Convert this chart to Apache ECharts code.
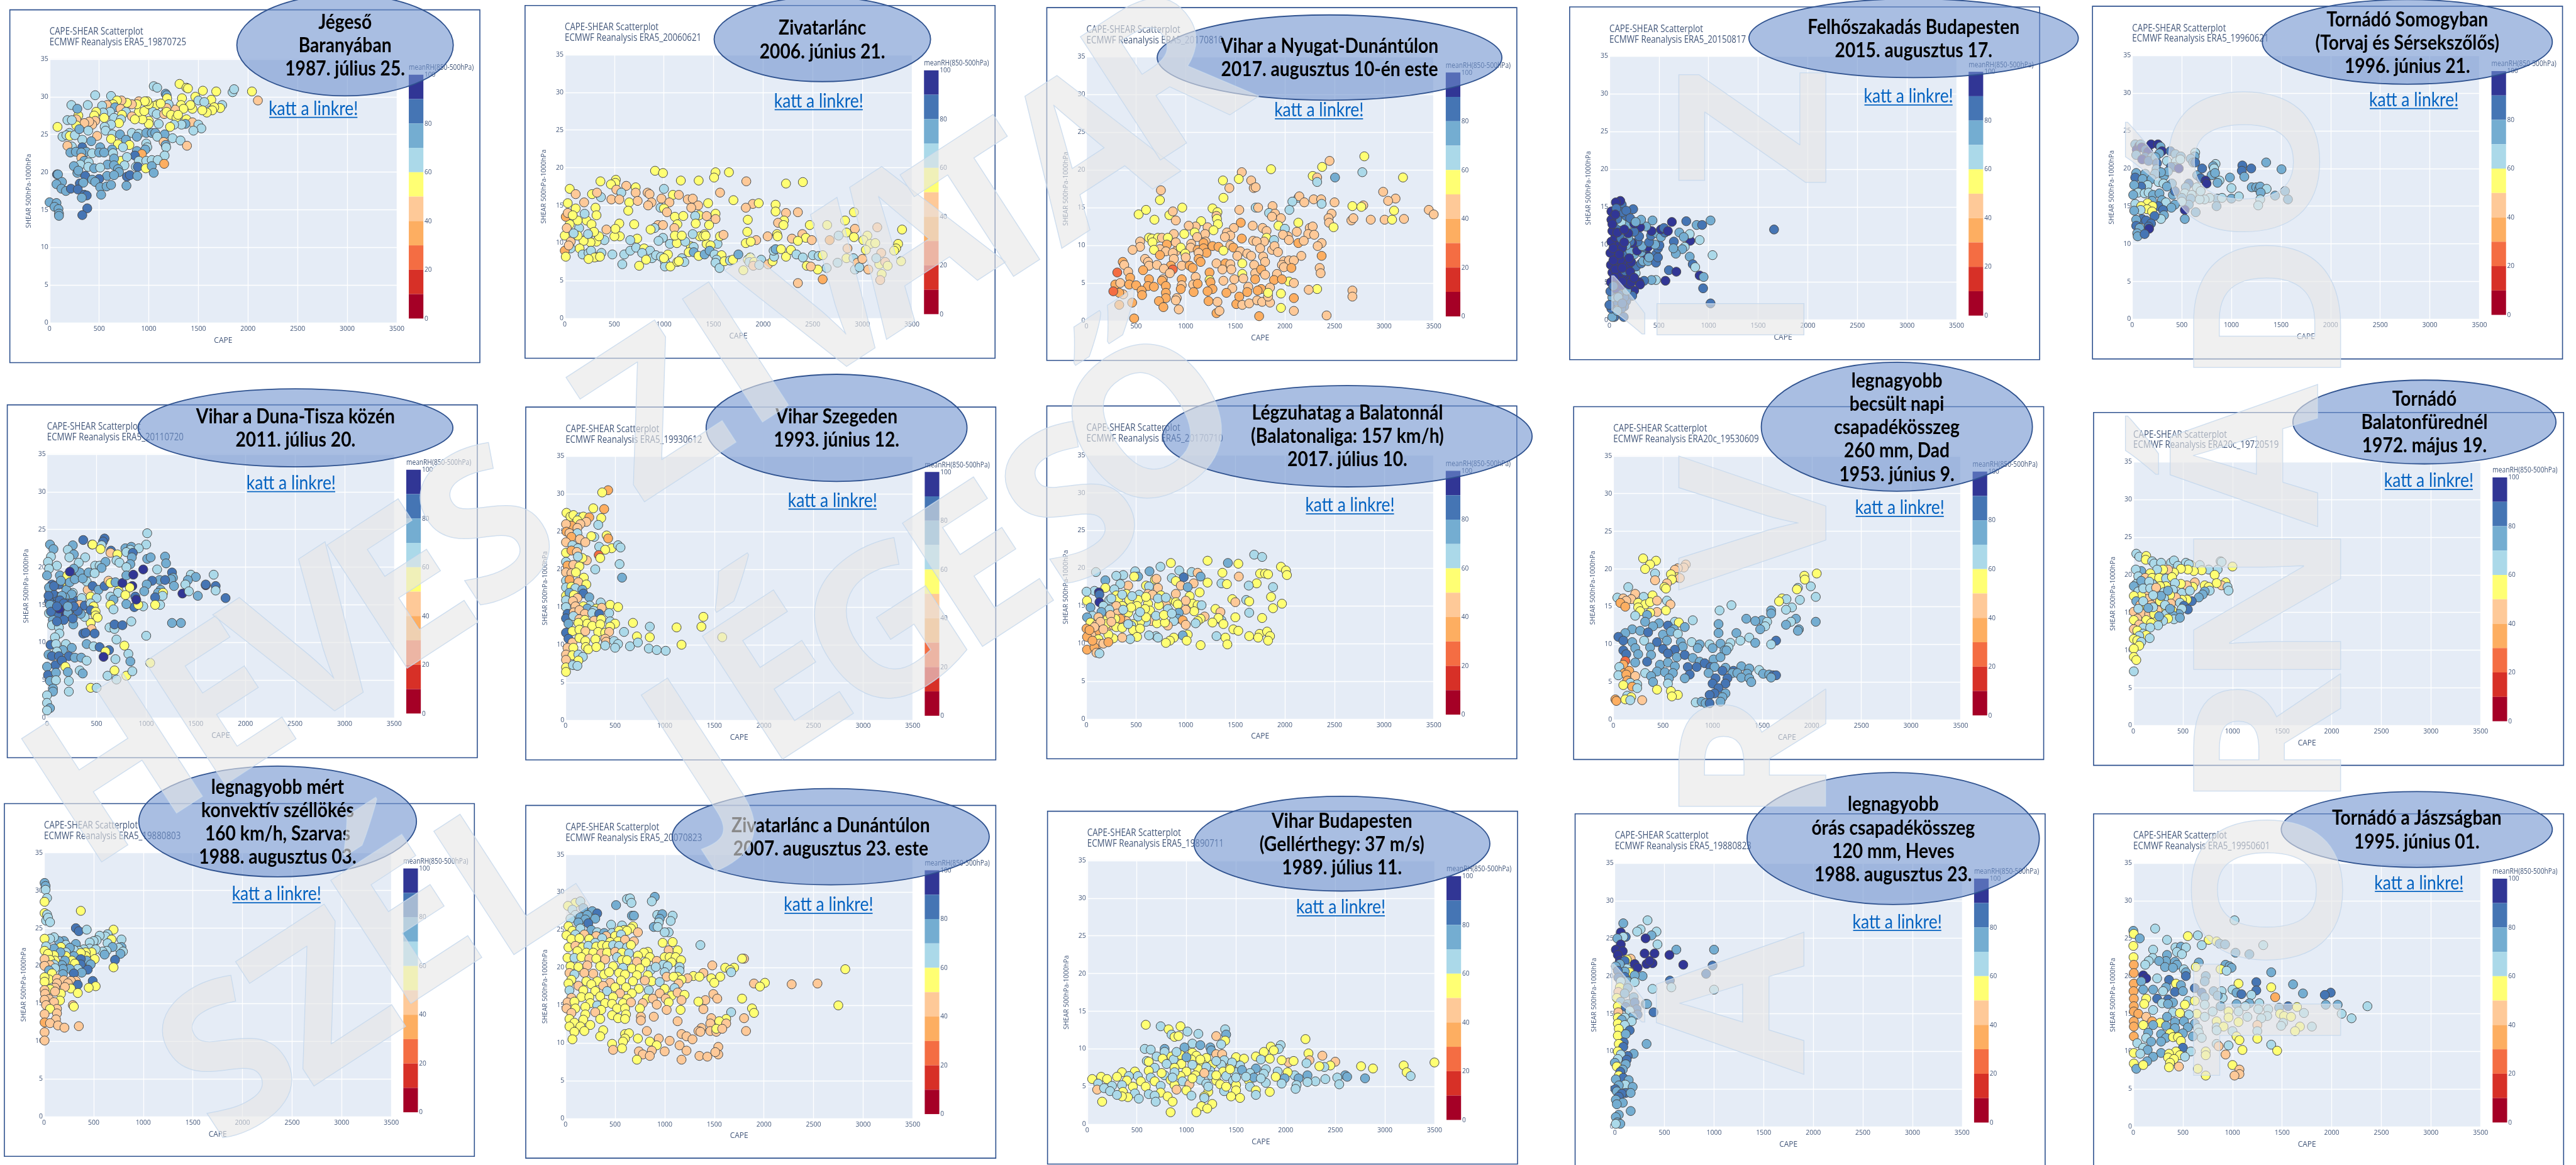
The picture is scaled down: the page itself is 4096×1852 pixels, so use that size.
<!DOCTYPE html>
<html>
<head>
<meta charset="utf-8">
<title>CAPE-SHEAR</title>
<script src="https://cdn.jsdelivr.net/npm/echarts@6/dist/echarts.min.js"></script>
<style>html,body{margin:0;padding:0;background:#fff;overflow:hidden}#main{width:4096px;height:1852px}</style>
</head>
<body>
<div id="main"></div>
<script>
/* adatok: CAPE, SHEAR, meanRH harmasok panelenkent, a kepekrol leolvasva */
var xTicks = [0, 3500, 500];
var yTicks = [0, 35, 5];
var rhColors = ['#a50026','#d73027','#f46d43','#fdae61','#fec998','#ffff73','#abd9e9','#74add1','#4575b4','#313695'];
var rhLabels = [0, 20, 40, 60, 80, 100];
var runs = ['ERA5_19870725','ERA5_20060621','ERA5_20170810','ERA5_20150817','ERA5_19960621','ERA5_20110720','ERA5_19930612','ERA5_20170710','ERA20c_19530609','ERA20c_19720519','ERA5_19880803','ERA5_20070823','ERA5_19890711','ERA5_19880823','ERA5_19950601'];
var events = [
 ['Jégeső','Baranyában','1987. július 25.'],['Zivatarlánc','2006. június 21.'],['Vihar a Nyugat-Dunántúlon','2017. augusztus 10-én este'],
 ['Felhőszakadás Budapesten','2015. augusztus 17.'],['Tornádó Somogyban','(Torvaj és Sérsekszőlős)','1996. június 21.'],['Vihar a Duna-Tisza közén','2011. július 20.'],
 ['Vihar Szegeden','1993. június 12.'],['Légzuhatag a Balatonnál','(Balatonaliga: 157 km/h)','2017. július 10.'],['legnagyobb','becsült napi','csapadékösszeg','260 mm, Dad','1953. június 9.'],
 ['Tornádó','Balatonfürednél','1972. május 19.'],['legnagyobb mért','konvektív széllökés','160 km/h, Szarvas','1988. augusztus 03.'],['Zivatarlánc a Dunántúlon','2007. augusztus 23. este'],
 ['Vihar Budapesten','(Gellérthegy: 37 m/s)','1989. július 11.'],['legnagyobb','órás csapadékösszeg','120 mm, Heves','1988. augusztus 23.'],['Tornádó a Jászságban','1995. június 01.']
];

var p01 = [1050,31.4,65,1085,31.2,65,1310,31.7,55,1380,31.2,55,1395,31.1,55,1545,30.8,55,1680,30.7,55,1845,30.6,65,1860,31,65,2040,30.7,55,2100,29.5,45,1170,30.4,75,1180,30.2,75,1185,29.8,55,460,30.2,65,620,30.1,65,1470,30,55,1335,29.8,55,1630,29.6,55,1500,29.5,65,1560,29.3,65,1740,28.9,65,1720,28.5,55,1660,28.6,55,1620,28.2,65,1640,28.2,55,1585,27.9,55,1540,28.2,55,1440,28.4,55,1420,28.9,55,1325,28.9,55,1350,28.4,55,1265,28.3,45,1200,29,65,1180,28.5,45,1090,29,55,1065,28.8,55,1120,29.1,55,1040,28,65,1080,27.7,65,1155,27.7,45,1180,28,55,1225,27.6,55,1280,27.2,55,1295,27.6,55,1380,27,55,1440,26.6,45,1500,26.3,65,1530,25.8,65,1450,25.5,65,1370,26.4,75,1330,26.3,65,1255,26.3,65,1215,26,55,1100,26.4,65,1000,26.8,55,1000,26.4,55,935,27,55,900,28,55,955,28.1,55,1000,29,55,985,29.4,55,900,29.4,45,960,29.4,55,880,29,55,830,29,45,780,29.2,55,725,29.5,45,680,29.5,55,640,29,55,580,28.9,45,530,28.8,65,660,28.6,75,715,28.4,45,770,28,65,830,27.4,45,860,27,55,730,27.6,55,610,28,65,540,27.9,65,470,28,55,450,27.5,55,550,27.2,55,650,27.2,65,720,27,65,700,26.5,55,620,26.3,65,555,26,65,460,26.8,45,430,26.3,45,400,26.7,45,350,26.5,45,290,27.5,55,270,27,45,270,26.2,55,220,28.9,65,280,28.4,75,385,28.9,65,180,26.9,65,225,26.9,65,80,26,55,200,25.2,65,130,24.7,65,170,24.9,65,205,24.8,55,255,24.9,65,390,25.5,65,300,25.7,75,480,24.8,45,565,25.5,65,635,25,65,710,25,75,830,25.2,65,900,25.1,65,975,25.2,75,1030,25.2,75,1065,25.2,75,1160,25,75,1085,24.7,65,1240,24.5,65,1320,24.2,65,1385,23.5,45,1150,24,45,1170,23.6,75,1175,23.3,65,975,23.8,65,985,23.3,65,965,23,75,880,24.7,75,770,24.3,75,620,24.4,55,690,23.7,55,805,23.6,55,740,23.3,65,630,23,75,510,23.3,75,420,24.1,75,330,24.3,65,330,23.3,85,225,23.4,65,180,23.5,45,210,22.6,75,265,22.7,75,370,22.7,75,320,22.6,75,430,22.5,65,500,22.6,75,550,22.6,75,640,22.5,65,880,22.8,75,930,22.4,35,1160,22.2,65,720,21.5,55,860,22.2,85,780,22,65,650,21.8,75,320,21.9,45,350,21.5,75,395,21.3,65,310,21,65,585,21,75,650,20.9,75,755,20.9,65,900,21.5,65,975,21.5,65,1030,21.6,65,1090,21.6,65,1155,21.1,35,245,20.8,75,390,20.7,65,450,20.5,75,510,20.6,65,690,20.4,75,870,20.7,65,890,20.7,85,970,20.5,55,1030,20.8,75,1050,19.9,75,700,20,75,280,19.9,75,290,20.2,75,75,19.7,85,85,19.7,75,360,19.5,85,580,19.5,75,650,19.6,75,780,19.4,85,810,19.6,85,885,19.5,75,500,19.1,85,430,19,75,460,18.7,75,125,18.7,75,70,18.4,75,305,18.5,85,340,18.6,75,510,18,75,575,18.1,75,620,18.3,75,775,18.2,75,120,17.8,75,165,17.5,75,215,17.8,85,285,17.7,85,350,17,85,375,16.9,85,325,16.6,75,520,17,75,0,16,75,70,15.9,75,50,15.4,75,90,15.1,75,95,14.5,75,95,14.2,75,380,15.2,85,330,14.3,85];

var p02 = [910,19.6,55,990,19.3,55,515,18.4,55,510,18,55,360,18.2,55,465,17.8,55,1170,18.3,55,1350,18.3,55,1520,19.4,55,1505,18.7,55,1655,19.4,55,1830,18.2,45,2230,17.9,55,2400,18.1,55,620,17.6,45,715,17.4,55,50,17.2,55,110,16.5,45,520,17.1,45,715,16.7,45,835,16.7,45,855,16.5,45,1000,17.2,65,570,16.7,65,365,16.1,65,275,16.5,55,325,16.7,45,1090,16.4,55,1150,16.4,45,1240,15.8,45,1290,15.9,45,1565,16.7,45,1700,15.7,55,470,15.8,45,550,15.8,45,195,15.4,45,650,15.4,55,735,15.6,45,875,15.4,45,975,15.9,45,1055,15.4,45,1445,15.3,55,1345,15,45,1895,15.2,45,1955,15.3,55,2125,15.1,55,1825,14.7,45,2125,14.2,55,2230,14,45,2350,14.1,45,2915,14.1,55,30,15.3,55,110,14.6,55,310,14.7,55,640,14.3,55,965,14.7,65,1000,14.6,55,1030,14.1,45,840,15,45,1275,14.7,45,1520,13.9,55,1845,13.1,55,1520,13.2,45,1355,13.7,55,1315,13.6,65,1430,13.6,45,1110,13.5,55,1195,13.6,55,2210,13,55,2150,12.7,45,2205,12.4,55,2825,13,55,2470,12.4,55,2645,12.4,55,3150,12.1,45,1455,12.4,55,1320,12.6,55,1135,12.5,55,940,12.4,45,990,12.4,45,1105,12,45,905,12,65,865,11.8,55,550,12.6,55,700,12.5,55,3400,11.8,55,2925,11.9,45,2840,11.4,55,2760,11,65,1840,11.5,55,2045,10.9,45,2140,11.2,55,2145,10.9,55,2395,11.2,45,2430,10.7,55,2290,10.6,45,2350,10.3,55,2490,10.4,45,2670,10.4,35,2915,10.8,55,3050,11,55,3010,10.4,55,3080,9.9,55,3130,10,55,3360,9.9,55,3340,9.3,55,3320,9,55,2850,9.3,45,3035,9.1,55,3190,8.7,45,1930,10.4,45,1825,10,55,1875,10.2,55,1540,9.9,65,1430,9.9,55,1470,9.7,55,1360,10.9,55,1410,11.2,55,1290,11.2,65,1395,10.9,55,1420,11,55,1565,10.9,55,1600,11.1,45,1270,9.6,55,1300,9.5,65,1060,9.9,65,1130,10,55,1215,10.2,65,1110,11,55,1180,11,55,990,10.7,65,945,10.3,65,730,10.6,55,660,10.4,65,555,10.9,55,500,10.9,55,400,10.4,65,320,10.2,55,230,10.7,65,260,10.1,55,190,10.3,55,150,9.3,55,60,9.3,65,180,8.5,65,240,8.7,65,330,8.2,55,265,9,65,300,8.1,55,370,8.7,65,600,8.5,65,660,9,65,720,9.4,65,800,9.3,55,860,9,65,880,8,65,780,8.7,65,920,8.4,65,970,8.2,65,1040,8.5,55,1010,7.5,65,1010,6.9,65,1065,6.9,55,1180,8,65,1205,7.5,65,1135,7.5,55,1250,8.8,55,1300,8.8,75,1350,8.3,55,1410,8.5,75,1460,9,75,1510,8.5,65,1580,8.4,55,1530,7.8,65,1520,7.4,65,1560,6.7,65,1610,7.6,55,1665,7.7,65,1695,7.8,55,1750,8.5,75,1845,7.8,55,1870,8.1,55,1860,7.5,65,1910,7.5,55,1900,7,45,1980,7.8,65,1960,7.1,65,2050,7.2,45,2095,7.6,55,2110,8.2,65,2105,9,65,2125,9.2,75,2180,9.2,55,2230,8.2,55,2280,9.1,55,2335,8.5,65,2400,8.1,65,2440,7,55,2500,8.4,65,2560,8.3,65,2600,8.4,55,2640,6.7,65,2550,6.5,55,2750,7.4,65,2840,8,55,2910,8,65,2925,6.5,65,2950,7.4,45,2970,6.8,65,3000,7.9,45,3060,6.5,45,3170,7.2,55,3140,8,65,3230,7.5,45,3255,7,55,3390,7.6,55,3195,5.9,55,3180,5.1,45,2600,5.2,35,2350,4.7,45,2480,6.9,45,1800,6.4,55,510,11.9,55,420,11.8,45,345,10.9,55,145,12,65,220,13,55,270,12.5,55,130,13,55,50,12.5,55,0,11,55,20,12,45,10,13.5,35,30,14,45,80,13.7,55,200,13.9,65,320,13.7,55,295,11.5,55,235,11.2,65,130,11,55,60,10.2,45,90,11.3,65,0,9,35,10,8.2,55,40,9.7,45,480,8.5,65,240,7.9,55,355,8.2,55,580,7.2,65,750,7,55,820,7.8,55,1000,8,55,1150,7.6,55];

var p03 = [2800,21.8,55,2450,21.2,45,2375,20.4,55,1860,20.1,55,1565,19.7,45,2280,19.2,55,2325,19,45,2325,18.4,65,2505,19,75,2780,19.7,65,3190,19,55,1375,18.6,55,1535,18.8,55,1660,18.6,45,1685,17.6,45,1705,17.7,45,1440,17.6,45,750,17.3,45,740,16,55,1380,16.3,55,2135,16.3,65,2145,16.5,45,2075,15.8,65,2195,15.7,45,2290,16.1,45,2365,16.1,45,2370,15.5,65,2500,15.7,45,2990,17.1,45,3115,16.2,45,3040,15.9,45,2790,15.3,45,2680,15.2,55,2770,15.1,55,3100,14.6,55,3450,14.7,45,3500,14.1,45,525,14.1,55,600,14.7,55,835,14,55,870,14.5,45,965,15,55,685,13.4,55,900,13.3,45,1270,14.9,55,1320,14.4,55,1310,13.9,45,1315,13.5,55,1325,12.8,55,1155,13.2,55,1540,14.7,45,1705,15,65,1730,15,45,1875,15.2,45,1840,14.3,65,1900,14.2,45,1870,13.8,45,1960,13.6,45,2045,14.7,65,2470,14.2,45,2440,13.6,45,2445,13,45,2490,12.4,55,2670,13.3,45,2690,13.6,45,2865,13.4,45,3005,13.4,45,3080,13.4,55,3200,13.5,45,1555,13,35,1485,12.3,45,1675,12.6,45,1775,12.3,45,1815,11.9,45,1935,12.6,55,2000,12.2,65,2135,13,55,2120,11.8,45,2250,12.3,45,2280,12.5,45,2235,11.5,45,2295,11.4,45,2030,11.2,45,1980,11.4,45,1815,11,55,1890,10.7,65,1790,10.5,45,1100,12.5,45,1030,12.6,45,1090,11.7,55,1220,12.4,45,1280,12,55,1195,11.5,45,1115,11.1,45,985,11.5,55,880,11.5,45,630,11,55,660,10.9,55,720,11,55,760,11,45,820,11,55,1415,11.7,45,1450,11.3,45,1395,11.1,45,1565,10.9,35,1680,10.6,45,1715,10.5,45,2040,10.7,45,2135,10.3,35,2190,10.6,45,2370,10.3,45,2330,9.9,45,1200,10.5,45,1180,10.3,35,1055,10.2,45,900,10.4,45,810,10.1,35,665,10.4,55,540,10.5,45,540,9.8,45,465,9.4,45,740,9.5,45,680,9.4,55,800,9.2,45,900,9.2,45,950,9.7,55,1050,9.7,45,1120,9.4,35,1180,9.6,35,1270,9.9,35,1330,9.8,35,1450,10,45,1480,9.7,35,1380,9.3,55,1210,9,35,1130,9,45,995,8.9,55,870,9,45,740,8.7,35,590,8.2,45,1550,9.2,45,1620,8.9,45,1750,9.6,45,1870,9.4,45,1895,9.9,45,1930,9.1,45,2165,8.6,45,2370,8.6,35,1520,8.6,45,1660,8.6,45,1780,8.5,45,1130,8.2,35,1000,8.4,45,880,8.2,45,620,7.8,45,365,7.8,35,380,7.4,45,630,7.3,45,710,7.4,45,850,7.3,35,960,7.3,45,1040,7.3,35,1150,7.8,35,1310,7.6,45,1400,7.6,35,1450,7.5,45,1570,7.6,55,1690,7.4,45,1800,7.8,45,1990,7.9,45,2040,8,45,2090,8,45,1970,7.4,45,1990,7.1,45,2065,7,35,2350,7,45,2360,6.3,45,310,6.4,25,420,6.5,45,570,6.7,35,780,6.9,45,870,6.8,25,1070,7,35,1240,6.4,35,1370,6.8,45,1460,6.8,45,1570,6.2,55,1700,6.3,45,1760,6.8,35,1800,6.1,45,1920,6.2,45,2040,5.2,55,2090,5,45,1240,5.4,55,1100,5.8,45,960,5.5,35,840,6.3,45,770,5.5,45,630,5.5,35,440,5.7,35,290,4.8,35,340,5,45,430,4.8,35,500,4.7,35,620,4.6,35,680,4.5,35,760,5.3,35,800,4.6,35,960,4.7,45,1075,4.8,45,1120,4.9,35,1250,5.1,35,1380,5.3,45,1490,5.5,45,1580,5.6,45,1700,5.5,35,1890,5.4,35,1970,5.5,35,1850,4.4,45,1760,4.2,35,1725,4,35,1630,4.5,45,1620,3.8,35,1470,4.3,45,1410,3.7,35,1270,4.2,35,1220,3.9,35,1080,3.8,35,950,4.2,35,800,3.7,35,555,4,35,560,3.4,35,370,3.5,45,330,3.7,35,270,3.9,25,800,3,35,910,3,45,900,2.7,45,1230,2.6,35,1320,2.5,45,1510,2.2,35,1540,3.2,35,1570,2.1,45,1640,2.3,45,1720,2.7,45,1770,2.5,45,1850,2.4,45,1830,3.2,45,1960,3.6,55,2090,3,35,2325,4.2,55,2240,4.1,45,2680,4,45,2680,3.2,45,1830,3.7,55,730,2.6,35,460,2.4,35,330,2.1,35,775,1.8,35,930,1.5,45,1310,1,35,1340,1.3,45,1740,.6,35,1960,1.7,55,2090,1.3,45,2420,.7,45,480,.3,35];

var p04 = [1020,13.2,75,775,13.1,85,630,13,95,880,12.6,75,935,12.6,85,435,13.2,75,240,14.7,85,125,15.3,85,110,15.8,95,65,15.6,95,1660,12,85,910,10.6,65,1040,8.6,65,815,10.5,95,810,11.4,65,705,11.6,75,750,11,75,650,10.4,85,760,9.7,65,735,9.4,75,670,8.8,75,645,9.5,75,810,8.4,75,840,7.4,85,865,7,65,600,6.6,85,675,6.4,95,910,5.9,95,950,5.7,75,945,4.2,85,1020,2.2,85,565,5.2,95,470,5.3,65,425,5.3,75,350,5.2,85,300,5,95,310,4.7,95,250,3.9,95,230,3.2,85,170,2.5,85,150,1.8,85,120,1.5,85,145,.4,85,50,.4,85,30,.4,75,20,1.5,85,60,2.5,85,150,3,85,95,3.4,85,175,3.9,75,30,3,75,0,2,85,10,3.8,85,60,4.2,95,120,4.6,95,200,4.7,95,15,5,95,90,5.4,95,180,5.6,95,210,5.3,95,220,5,95,100,6.1,95,30,6.3,95,160,6.5,85,240,6.7,75,265,6.2,65,270,7.1,85,190,7.3,95,75,7.1,95,15,7.3,95,130,7.7,95,220,7.7,95,320,7.5,85,340,7.8,75,390,7.8,75,470,7.6,85,380,8.6,95,470,8.7,85,490,8.3,85,400,8.3,75,320,9,75,250,8.7,75,160,8.6,85,70,8.6,95,10,8.9,95,100,9.3,85,210,9.2,75,280,9.2,95,360,9.6,85,390,9.7,95,330,9.8,75,490,9.5,85,505,9.9,85,460,10,75,400,10.3,85,285,10.4,85,230,10.2,95,210,10.4,85,170,9.9,75,90,10.1,95,20,10.4,95,60,11,95,120,10.8,85,190,10.9,75,300,11.1,85,420,11.2,85,480,11.5,75,520,11,75,560,11.6,85,520,12,95,550,12.2,85,590,11.8,95,425,11.8,95,370,12.4,75,310,12.3,95,250,11.7,85,190,11.5,95,30,11.8,95,100,12.3,85,180,12.6,75,120,13,65,250,12.8,95,320,13.3,75,170,13.8,85,80,13.4,85,20,13.3,95,130,14.3,85,20,14.4,95,70,14.8,85,170,14.5,85,210,13.5,85,265,13,75,40,9.5,95,130,9.6,95,200,8.2,95,110,8,95,40,7.9,95,60,6.7,95,130,6.9,95,210,6.4,95,50,5.6,95,130,5.1,95,250,5.6,95,40,4.5,85,90,3,75,130,2.2,85,80,1.2,75,100,8.7,95,150,10.3,95,80,11.6,95,150,12,95,30,12.7,95,60,14,95];

var p05 = [30,23.2,75,45,22.5,95,70,23,95,85,23.2,75,95,22.8,95,135,22.5,85,190,23.2,95,260,23.2,95,285,22.9,75,300,22.3,95,275,22,75,160,22.2,95,40,21.8,75,130,21.5,85,200,21.5,75,100,21.2,95,165,21,85,235,21.5,75,250,20.7,85,385,22.3,85,435,21.9,75,490,21.6,75,635,22.1,65,630,21.6,75,590,21.3,75,350,21,65,440,20.9,65,485,21.2,65,420,20.2,75,390,20.2,85,470,20,95,615,20.8,75,635,20.8,85,840,20.6,65,815,20.3,75,1110,20.4,85,1105,19.7,85,1200,20,85,1350,20.8,75,1505,19.9,75,1130,18.9,75,985,18.8,75,880,18.4,65,800,19.1,75,655,19.1,75,705,20,85,825,20,65,835,19.4,75,690,18.7,85,740,18.4,95,750,18,95,860,18.1,75,1000,17.4,65,1205,17.5,75,1250,17.5,75,1280,17.3,75,1290,17.6,75,1355,17.3,65,1295,16.8,75,1440,16.4,75,1540,17,75,1570,15.9,75,1290,15.9,65,1270,15.1,65,855,16,75,850,15,75,1000,16,75,905,16.1,65,1075,16.3,65,780,16.1,65,730,15.9,65,680,15.9,65,650,17.5,65,690,17,65,570,18,85,540,17.5,75,530,16.7,65,500,16.1,75,600,16.5,65,590,16,75,570,15.2,75,640,14.2,75,530,14.5,95,530,13.3,75,500,15.6,65,430,15.2,75,410,16.5,75,430,17,85,400,18,75,320,19,75,360,19.6,75,245,19.9,75,290,19.5,75,230,19.3,75,130,19.3,75,40,19.4,75,30,18.8,85,105,18.6,75,195,18.6,75,265,18.2,65,315,18,65,350,17.6,75,155,17.8,65,90,17.6,85,20,17.8,75,60,16.8,65,125,16.7,65,165,16.8,65,210,16.5,75,10,16.5,75,275,16.7,75,300,15.8,75,340,15.5,65,395,14.8,75,265,15,85,200,15.7,75,155,15.4,55,30,15.3,65,90,15,55,205,15,55,150,14.6,55,200,14.3,55,85,14.5,65,20,14.4,75,310,14.5,85,320,13.8,75,290,13.3,65,225,13.7,85,100,13.3,85,40,13.2,75,140,13.1,85,190,12.7,85,165,12.3,85,170,12,95,40,12.4,85,75,12.1,75,50,11.4,75,55,11,75,125,11.3,85];

var p06 = [1010,24.5,65,1000,23,65,580,23.8,85,365,23.6,85,455,23,85,565,23.4,85,30,23,75,65,22.4,75,260,22.9,75,210,22.3,65,460,23,55,550,22.9,65,540,22.4,55,645,22.2,85,640,21.9,45,790,22.5,75,850,22.7,75,925,22.5,65,840,22.3,65,800,22,65,865,21.9,85,270,21.7,75,225,21.3,65,385,21.3,65,710,21.7,55,700,20.9,65,855,21.3,75,730,20.6,65,1010,21.1,75,1045,21.3,75,1190,21.4,75,1200,20.5,75,40,21.4,65,10,20.7,65,100,20.2,65,320,20.6,65,485,20.2,65,530,20.2,65,590,20.7,75,550,19.9,75,840,20.4,75,800,20,65,970,19.7,95,1110,19.7,65,1260,19.3,85,1450,19,65,1500,18.7,75,1680,19,65,1270,18.6,75,1250,18.4,75,1135,18.3,75,1060,18.2,85,1005,17.7,75,1190,18.3,85,1420,18.3,75,1395,17.7,65,1600,17.6,95,1600,17.7,85,1700,17.5,85,1700,16.9,65,1280,17.5,75,1365,16.5,95,1430,16.8,65,1520,16.2,75,1800,15.9,85,1145,17,75,1120,16.6,75,1170,16.6,55,1165,16.2,65,1090,16,85,1140,15,65,1090,15,55,970,14.8,65,880,14.7,85,920,15,55,980,16.8,75,890,16.1,85,900,15.7,95,860,17.5,95,720,16.9,55,835,17.3,55,715,16.6,65,640,16.1,65,670,15.7,75,790,16.3,55,800,15.1,75,640,15,55,670,14.4,65,410,17,45,300,18.6,95,260,16.6,65,20,19.8,65,0,18.9,75,130,18.9,75,205,18.9,55,140,17.8,55,50,17.7,85,120,17.7,85,195,17,75,400,18.1,65,460,17.5,85,520,17,75,580,17.5,85,620,18.2,45,640,17.9,55,690,18,75,760,17.9,95,800,18.9,75,870,19,95,250,16.4,75,70,16.2,65,180,16,75,300,15.5,85,350,15.9,65,440,16.1,55,500,15.9,65,20,15.5,85,80,15,85,150,14.5,95,200,15.2,85,250,15.2,85,330,15,45,380,14.9,85,440,15.2,65,470,14.8,55,440,14.3,85,490,14.1,55,490,13.6,55,510,13.3,55,1350,12.6,75,1260,12.6,75,850,12.8,65,630,12,65,680,11.8,65,680,12.4,85,760,12.3,85,440,12.6,55,450,11.8,45,365,11.2,85,390,11.3,85,480,11.2,85,380,13.4,65,340,13.8,75,180,13.4,95,100,13.7,85,20,13.9,65,60,13,75,50,12.3,65,120,12,65,125,11.2,65,265,12.4,75,80,10.7,65,35,9.7,85,90,9.8,65,190,9.8,65,400,9.8,75,470,9.5,65,530,9.4,85,625,9,85,590,8.8,55,700,10.4,65,780,9.6,55,1000,10.9,65,250,9.3,75,160,9,75,100,8.8,65,15,8.4,75,50,8.2,85,120,8.2,85,220,8.2,85,280,8,75,345,8,75,400,7.6,65,570,8.1,95,690,7.8,65,820,8.5,65,840,7.5,75,1040,7.3,55,85,7,85,150,7.6,85,185,6.8,55,0,6.8,75,10,5.7,85,30,4.9,75,90,6,75,210,6.1,75,330,6.3,65,360,5.9,75,610,5.6,65,700,5.1,65,680,6.3,55,800,5.6,55,860,6.2,65,220,4.9,65,90,5,65,60,3.9,75,60,3.5,75,220,3.5,65,440,4,55,500,4,65,0,3,65,0,2,65,30,1.3,75,0,1,65,100,16.1,85,150,16.2,75,30,16.8,75,60,16.5,85,130,15.6,85,170,15.2,85,230,14.3,85,120,14.5,95,210,13.9,75,260,13.2,85,170,13,85,100,12.8,85,30,15,75,40,14.1,85,100,14.8,85,310,14.2,85,270,14.8,85,210,14.8,75,20,17.3,75,15,16.2,85,70,17.5,85,230,18,75,280,18.4,75,330,19.3,75,360,18.5,75,420,19.3,75,480,19.2,65,270,19.8,75,230,19.4,95,140,18.2,75];

var p07 = [430,30.5,35,370,30.2,55,280,28.1,55,390,28,35,10,27.5,55,50,27,55,80,27.2,55,145,26.9,65,180,27,55,120,26.5,55,360,26.8,55,240,26.9,35,210,26.3,45,150,26,45,60,25.8,35,5,26,45,330,25.9,65,120,25.5,45,10,25,35,40,24.8,45,120,24.8,65,60,24.3,35,290,24.3,65,260,24.4,55,415,24.5,55,430,24.1,35,145,24,45,200,23.6,45,5,23.6,45,70,23.2,65,125,22.8,65,340,23,65,465,22.8,55,530,23.2,65,555,22.9,65,400,22.6,55,5,22.2,55,60,22.5,35,115,22.3,45,335,21.9,25,350,21.5,55,215,21.2,45,170,21.5,55,125,21.7,65,5,21,65,20,20.5,35,80,20.6,45,140,20.4,55,545,20.7,65,300,20,65,5,19.6,45,60,19.5,45,105,19.6,55,570,18.9,75,185,18.9,55,5,18.5,65,40,18.6,35,130,18.3,45,210,18,55,5,17.6,65,60,17.7,55,100,17.5,65,170,17.3,75,180,16.8,85,5,16.5,55,40,16.9,75,85,16.6,55,240,16.3,75,120,16.2,45,5,15.9,65,75,15.8,45,245,15.2,65,355,15.6,65,450,15.3,55,530,15,55,180,15.1,55,100,15.1,45,5,15,65,220,14.8,75,310,14.8,55,365,14.9,45,285,14.5,65,20,14.1,85,85,14.3,45,140,14.6,45,195,14.1,45,270,14.2,65,340,14.1,85,440,14.2,65,5,13.5,85,80,13.8,65,140,13.4,45,195,13.3,55,290,13.2,45,360,13.4,55,450,13.1,65,500,12.8,55,680,12.9,55,30,12.8,75,130,12.9,55,220,12.8,55,270,12.5,55,350,12.7,55,450,12.4,55,850,12.4,65,1120,12.3,55,1370,12.4,55,1390,13.7,55,590,11.7,65,5,11.6,85,70,11.8,55,140,12,55,200,11.8,45,330,11.7,55,400,11.6,55,440,11.7,45,720,11.1,55,850,11,55,1580,11,55,30,10.8,85,70,10.3,45,140,10.9,55,200,10.5,55,300,10.7,55,400,10.8,45,410,10.4,45,490,10.5,65,530,10.1,65,650,9.8,65,730,10.3,65,840,9.5,65,920,9.3,65,1010,9.2,65,1170,10,55,20,9.6,45,80,9.6,55,205,9.7,55,230,9.4,55,310,9.7,55,400,9.9,65,500,9.6,65,5,8.7,45,70,8.6,55,130,8.7,65,175,8.4,65,5,8,45,130,7.9,55,5,7,55,75,7.3,65,120,7.2,65,5,6.4,55];

var p08 = [1690,21.8,65,1770,21.5,65,1220,21,55,850,20.7,55,1425,20.7,75,1530,20.6,55,1960,20.2,55,2010,19.7,55,2020,19.1,55,95,19.5,65,490,19.6,65,635,19.6,75,745,20.2,65,935,19.7,65,1060,19.5,65,1120,19.4,45,1370,19.4,55,1750,19.3,55,1800,19.3,55,1830,19.2,55,1535,18.9,45,1150,18.9,75,980,18.8,85,860,18.7,65,690,18.5,55,520,18.9,75,480,18.9,55,370,19.1,65,300,19,65,190,18.4,75,705,18.6,45,900,18.3,55,1220,18.1,55,1360,18,65,1415,17.9,55,1715,18,55,1635,17.7,65,1880,17.5,65,1080,18,45,950,17.7,45,1020,17.5,75,720,17.4,45,600,17.7,55,630,17.6,65,420,17.7,45,340,17.9,65,280,17.2,65,190,17.4,55,80,17,65,125,16.8,95,0,16.9,65,130,16.5,85,1140,16.8,55,1860,16.2,55,400,16.6,55,300,16.4,55,530,16.5,65,620,16.6,45,665,16.5,45,750,16.4,55,900,16.6,45,1040,16.3,55,1470,15.9,55,1500,15.5,45,1610,15.8,65,1640,15.6,55,1970,15.3,55,1880,14.7,55,1070,15.3,55,1120,15.1,55,1160,15.1,65,130,15.5,95,5,15.7,55,230,15.8,65,320,15.9,55,430,15.8,55,520,15.8,55,820,15.7,55,900,15.5,55,1000,15.7,45,360,15,55,300,15,45,510,15,55,620,15.3,55,800,15.2,45,920,15.2,55,170,15,65,40,14.8,75,730,15.1,55,1085,14.3,55,1300,14.6,55,1350,14.2,45,1500,13.5,55,1640,14.1,65,1770,13.4,55,1000,14.5,45,930,14.1,75,820,14.6,65,640,14.4,55,590,14.6,55,420,14.1,55,310,14,45,230,14.5,65,150,14.2,75,60,13.7,65,5,13.5,75,120,13.5,45,1360,13.1,65,1330,13.4,55,1190,13.6,45,1150,13.3,55,1120,13,55,1270,12.8,55,1380,12.6,55,1100,12.7,65,920,13.3,75,970,13.1,35,880,13,65,1000,12.5,45,650,13,45,600,12.9,65,540,12.9,55,470,12.6,55,400,13,45,340,13.3,35,290,13.3,55,210,13.2,55,40,12.8,55,100,12.5,45,200,12.2,45,270,12.4,45,820,12.4,45,710,12.7,55,790,12.8,55,450,12.4,65,470,11.8,55,540,12,55,1480,11.9,55,1530,11.7,55,1640,11,55,1745,11.3,55,1820,11.6,55,1730,10.8,55,1850,11,55,1830,10.4,55,1400,10.8,55,1310,11,65,1150,9.8,55,1420,9.9,55,1020,11.2,55,970,11.1,75,1010,10.4,55,880,10.8,55,840,10.4,55,800,10.1,55,700,11,65,720,10.8,65,630,11.1,65,510,10.9,55,440,10.6,65,360,10.8,45,270,10.7,55,220,11.2,55,200,12.6,55,100,11.6,35,50,11.1,45,0,12,35,5,10.9,35,5,9.2,35,120,10.6,55,130,10,45,170,10,45,220,10.2,35,80,9.5,35,100,8.8,45,130,8.7,65,250,16,65,360,16.5,65,460,16.3,65,600,16.2,55,720,16,65,800,16.1,65,240,13.8,45,140,12.9,45,300,12.2,55,360,12.1,55,420,12.6,65,520,13.6,65,600,13.5,55,700,13.7,65,780,13.8,55,860,14,65,450,14.8,55,540,14.2,65,370,14.5,65,250,12.9,45,80,12.2,45,30,11.8,35,170,11.9,45,60,10.4,35];

var p09 = [300,21.4,55,430,21.1,55,370,20.6,55,730,20.6,45,710,20.2,45,650,20.1,45,620,19.9,45,320,20,55,2050,19.4,55,1925,19.1,55,1930,18.6,55,640,18.9,55,580,19.3,55,420,19.4,65,670,18.8,45,590,18.6,55,540,18.1,45,420,18.5,45,1990,17.7,65,1860,17.5,65,1850,17.3,55,515,17.6,55,530,17.4,55,150,17.6,65,220,16.7,45,305,16.3,65,395,16.5,55,2040,16.3,65,1700,16.1,55,1745,16,65,1880,15.9,65,1670,15.7,55,1190,15.2,65,540,15.8,65,40,16.2,65,100,16.1,45,180,16,45,130,15.8,45,250,15.5,55,320,15.3,55,370,15.6,55,440,15.8,45,575,15.3,45,70,15.5,35,120,15,35,250,14.9,55,1800,14.9,65,1740,14.6,65,1590,14.5,75,1590,14.1,75,1070,14.5,65,440,14.3,45,530,14.5,55,370,14.2,55,270,14.4,55,340,13.9,75,220,13.8,65,1340,13.4,75,1840,13.4,75,1790,13,65,2040,13,75,1500,13.2,75,1430,13.1,75,1550,13,65,1060,12.7,75,320,13,75,620,13,65,660,12.9,55,800,13.2,65,460,12.8,75,550,12.5,85,1740,12.6,75,1530,12.4,65,1480,12,75,1870,12,75,1860,11.8,75,720,12.3,75,610,12,75,400,12.4,75,190,12,75,120,11.5,75,270,11.8,75,350,11.6,85,500,11.3,75,580,11.7,75,650,11.4,65,1060,11.5,75,1240,11.5,75,1370,10.9,65,1280,10.5,65,1180,10.2,65,1430,10.2,75,1640,10.5,85,1590,10,65,50,11,85,100,10.5,85,190,10.3,75,310,10.5,65,440,10.3,85,540,10.5,75,680,10.3,75,790,10.3,65,870,10,75,970,10,65,1080,10.1,75,1160,9.6,65,1120,9.2,75,1140,9.2,75,1000,9.5,75,850,9.5,75,700,9.7,75,620,9.3,85,500,9.4,85,370,9.6,75,220,9.5,75,100,9.2,85,130,8.7,85,250,8.7,75,380,8.6,75,550,8.8,85,640,8.3,75,720,8.6,85,800,8.2,75,870,7.7,75,920,7.5,85,1010,8,75,1080,8.3,75,120,7.8,25,100,7.3,35,60,7,65,220,7.6,75,340,7.7,85,470,7.3,75,550,7.6,75,620,7.1,75,750,7,85,840,7,85,980,7,85,1020,7,75,1130,6.9,75,1290,7.1,75,1370,6.8,75,1470,6.6,65,1210,6.5,85,110,6.2,35,160,6.5,35,320,6.2,65,440,6.4,75,520,6.3,75,600,6.2,75,770,6,85,960,6.2,75,1100,6.5,85,1200,6.2,75,1250,6.2,75,1350,6.1,75,1510,6.1,75,1570,6,75,1610,5.9,85,1640,5.9,85,1590,5.6,75,50,5.9,65,130,6,35,220,5.8,45,380,5.8,75,720,5.5,75,1030,5.5,85,1150,5.5,85,1290,5.6,75,1370,5.5,75,1390,5,75,140,5.2,35,170,4.9,65,240,4.7,65,400,5,75,560,5.5,75,550,4.8,65,100,4.6,55,190,4.4,35,1000,4.8,85,1130,4.8,85,1060,4.2,85,240,4.2,65,440,4,55,1020,3.5,85,970,3.3,85,1130,3.5,75,1100,3,75,580,3.8,55,650,3.3,55,590,3.1,55,140,3.2,65,180,3,55,120,2.7,55,20,2.7,35,30,2.5,35,170,2.6,65,290,2.6,45,830,2.3,65,890,2.4,75,930,2.2,75,970,2.2,85,1080,2.4,75];

var p10 = [30,22.8,65,60,22.4,65,130,22.5,55,125,22,55,190,21.8,65,210,21.5,65,280,21.6,65,380,21.6,65,410,21.9,65,450,21.2,65,530,21.6,65,580,21.3,55,560,21.4,65,670,21.3,65,880,21.8,65,890,21.7,65,1000,21.1,55,850,20.7,65,760,20.7,65,820,20,55,690,20.6,55,610,20.5,55,550,20.7,55,480,20.8,55,410,20.3,55,350,20.7,45,300,20.7,55,240,20.7,65,170,20.2,55,80,20.5,75,25,20.7,65,50,19.8,65,120,19.6,45,190,19.6,55,260,19.6,55,330,19.5,65,390,19.7,55,930,19,55,890,18.6,45,840,18.9,55,950,18.4,65,960,17.9,65,720,18.6,55,760,18.4,55,770,17.9,65,620,19,45,600,18.4,55,540,18.6,45,480,18.8,55,420,18.9,65,330,18.5,55,270,18.5,55,190,18.8,65,75,18.4,45,30,18.8,65,5,18.5,75,50,17.8,65,140,17.8,45,220,17.7,65,310,17.7,65,400,18,65,490,17.6,65,570,17.9,65,720,17.8,75,700,17.4,75,660,17,75,590,16.5,85,540,16.7,55,490,16.7,55,430,17,45,370,17.3,55,310,16.9,65,240,16.9,45,140,16.8,45,80,17.2,55,5,17.2,55,30,16.5,75,70,16,45,180,16,45,270,16.5,55,380,16.2,45,470,16.3,65,510,15.9,85,550,15.4,85,490,15.5,65,460,14.8,75,390,15.3,55,300,15.5,55,245,15.3,45,120,15.4,55,5,15.1,45,80,14.9,45,160,14.8,45,210,14.8,55,330,14.8,65,400,14.6,75,410,14.1,65,470,14.3,75,350,14.2,55,300,13.9,65,240,13.9,55,130,14,55,40,14.2,45,5,14,55,60,13.4,45,180,13.6,55,250,13.3,65,100,13,65,170,13,65,5,12.8,45,40,12.6,55,100,12.2,65,130,12,55,60,11.9,65,165,11.6,65,5,11.5,55,40,11.3,55,80,11.1,65,60,10.6,55,5,10.2,55,5,9.1,55,30,8.7,55,5,7.2,65,80,19.2,75,160,19.1,65,100,18.2,65,170,18.2,65,230,18.3,45,280,17.2,75,350,17.9,75,200,17.3,65,100,16.5,65,200,15.7,65,320,16,65,150,15.6,75,50,15.5,65,260,14.5,75,370,15.5,75];

var p11 = [5,31,75,15,30.6,75,15,30.1,65,30,29,65,5,28.5,55,5,27,55,30,26.8,65,370,27.3,55,20,26,65,40,26.4,65,60,25.8,65,320,25,85,350,24.6,85,430,24.8,65,700,24.8,55,640,24.2,65,620,23.9,65,560,24,65,780,23.5,65,530,23.4,65,500,23.3,65,460,23.1,65,680,23.5,55,640,23,65,200,23.3,75,150,23.3,75,100,23.8,65,60,23.6,65,5,23.6,55,320,22.9,75,220,22.8,65,170,22.5,55,780,22.5,75,750,22.4,65,690,22.5,75,630,22,65,590,21.9,65,460,22.3,65,520,22.2,65,400,22.2,65,350,22,65,300,22.1,65,260,22.4,75,220,21.8,65,100,22.3,75,20,22.6,65,5,22,55,795,21.9,65,770,21.6,75,610,21.5,75,480,21.8,55,420,21.8,55,420,21.3,55,370,21.7,55,300,21.3,75,220,21.3,55,165,21.8,75,100,21.4,55,40,21.6,55,715,20.8,85,700,19.8,55,510,20.9,55,430,20.7,75,370,20.9,85,280,20.7,55,210,20.7,75,110,20.7,55,60,20.8,55,5,20.9,45,470,20.2,75,370,20.2,85,310,20.3,55,180,20.1,75,100,20.2,65,60,20.1,45,5,20,45,440,19.5,85,340,19.6,65,260,19.6,75,190,19.6,75,110,19.7,65,50,19.4,75,380,19.1,75,300,19,85,190,18.9,75,80,19,55,50,18.2,55,5,18.5,55,130,18.3,45,200,18.1,45,490,18,85,320,18,45,270,18,45,5,17.9,55,130,17.7,45,240,17.7,45,340,17.5,85,520,17.3,55,450,17.1,55,270,17,55,210,17.2,45,110,17.1,45,60,16.9,55,5,16.8,45,340,16.4,55,170,16.3,55,110,16.6,45,10,16.3,45,50,15.6,45,160,15.4,55,5,15.5,45,100,15.2,45,290,14.8,45,300,14.6,55,20,14.8,45,130,14.3,45,60,14.3,55,130,13.7,45,5,13.6,45,120,12.9,45,5,12.5,35,60,12.4,45,140,12.1,45,350,12,45,205,11.8,45,5,11.2,45,5,10.1,45];

var p12 = [900,29.4,75,870,28.8,65,620,29.1,65,650,29.2,65,665,28.6,65,510,28.3,75,670,26.9,75,690,26.9,75,925,27,65,975,27.1,75,1080,26.9,65,950,26.5,75,940,26,65,1060,26.2,65,100,28.6,55,150,28.8,65,25,28.2,55,70,27.7,65,180,27.9,75,270,27.5,75,320,27.2,85,100,27,65,150,26.7,75,220,27,75,50,26.5,65,200,26.4,75,300,26.5,75,130,26,75,230,25.9,85,680,25.5,55,890,25.4,75,930,25.4,65,1040,24.7,65,1000,24.7,65,460,25.7,65,570,25.6,65,590,25,55,660,25.2,55,30,25.5,55,70,24.9,55,150,25.2,65,260,25,75,320,24.7,65,390,24.6,75,470,24.6,65,540,24.9,55,620,24.9,55,730,24.7,45,410,24.2,45,500,24.2,55,560,24.4,65,10,24.3,55,100,24.4,65,190,24.4,45,310,24.2,45,370,23.9,65,60,23.8,55,140,23.9,55,240,23.8,55,300,23.3,65,450,23.4,55,530,23.5,55,600,23.7,45,690,23.5,45,980,23.3,55,1080,23.4,55,1360,23,65,1040,22.3,45,30,22.7,55,100,22.9,45,170,22.7,55,230,22.9,65,310,22.8,55,370,23,55,420,22.9,55,480,23,65,540,22.9,65,620,22.7,65,660,23,55,1130,22.3,55,830,22.1,55,790,22,55,120,22.2,55,210,22,55,280,22,55,360,21.9,45,420,22,55,500,22.1,45,570,22,55,640,21.9,65,730,21.6,55,850,21.4,55,1000,21.4,55,1050,21.4,55,1110,21.4,55,1165,21,55,1800,21.2,45,1780,21.2,55,20,21.3,55,90,21.3,65,160,21.4,55,240,21.2,45,310,21.2,55,400,21.1,45,520,21.4,65,570,21,55,620,21,55,720,20.8,45,810,20.7,55,920,20.9,45,985,20.4,65,1070,20.7,55,1480,20.3,45,1700,20,55,1610,20,55,1660,19.7,55,1670,19.4,65,2820,19.8,55,1030,20.2,65,1150,20.1,65,50,20.2,55,130,20.1,55,220,20.3,45,350,20.2,55,480,20.2,55,580,20,65,670,19.9,55,750,19.9,55,860,19.7,65,910,20.1,65,40,19.3,45,90,19.1,65,190,19.3,45,280,19.2,45,390,19.1,55,440,19.4,55,540,19.3,55,600,19.1,55,720,19,55,830,19,55,1000,19.4,65,1150,19.6,65,1130,18.8,55,1470,18.6,55,1560,18.8,55,1290,18.9,55,1020,18.8,45,1090,18.8,55,1390,19.3,45,1350,18.8,55,1230,18.6,45,1170,18.4,55,1140,17.9,45,1500,18,55,1900,17.9,45,2010,18,55,2280,17.8,45,2540,17.9,45,1960,17.5,55,870,18.2,55,950,18.1,65,800,18.3,45,680,18.2,55,560,18.3,55,450,18,45,320,18.2,55,210,18.2,55,60,18.4,55,30,17.9,55,130,17.6,45,260,17.8,55,380,17.6,45,500,17.4,55,610,17.4,55,740,17.2,55,840,17,65,1000,17.2,55,1100,17.3,65,40,17,65,180,17,55,300,16.9,55,420,16.9,65,550,16.6,45,670,16.6,55,950,16.6,45,1070,16.3,55,1130,16.7,45,1200,16.4,55,1490,16.5,45,1780,15.9,55,2750,15,55,60,16,45,160,16.1,55,240,16.1,55,350,16.2,55,480,16.1,55,620,15.9,55,820,15.9,55,880,15.9,45,1010,15.9,45,1170,15.7,45,1410,15.7,45,1530,15.9,45,1880,14.6,55,1900,14,55,20,15.4,45,90,15.5,55,250,15.3,55,320,15,65,400,15.3,55,470,15.2,55,580,15.3,55,660,15.4,45,780,15.3,45,920,15.1,45,1040,15.4,55,1340,15.5,55,10,14.6,45,100,14.6,55,200,14.8,55,360,14.4,55,520,14.6,55,600,14.6,55,750,14.6,55,1020,14.4,45,1160,14.4,55,1390,14.5,45,1670,14.1,65,60,14,45,200,13.8,55,300,14.1,45,470,13.7,55,530,13.3,55,610,13.8,55,760,13.5,45,890,13.5,45,1470,13.3,45,1620,13.2,55,1550,12.9,55,1800,13.3,45,40,13.2,55,90,12.7,55,180,13.1,55,350,13.2,55,600,13.2,55,760,13,45,1130,12.9,45,1460,12.6,45,1620,12.6,45,1370,12,45,40,12.2,55,150,12.2,55,250,12.4,55,1340,11.6,45,1360,11.5,45,1460,11.6,45,1520,11.5,45,1520,11.9,55,1580,11.9,45,1820,11.6,45,90,11.5,55,190,11.6,55,380,11.7,55,600,11.2,55,640,11.3,55,820,11.6,45,1170,11.2,45,1220,10.9,45,70,10.5,55,350,10.9,55,600,10.6,55,730,10.6,55,940,10.6,45,1050,10.3,45,1280,10.5,45,470,9.9,55,580,10.2,55,850,10.2,55,920,9.7,55,480,9.1,45,570,9.3,55,1150,9.7,45,1540,9.5,45,1220,9,45,740,8.9,45,870,9,45,1000,8.9,45,1540,8.5,45,1510,8.8,45,780,8.5,45,850,8.3,45,1350,8.3,45,1430,8.2,45,720,7.8,55,1170,7.8,45];

var p13 = [590,13.2,55,740,13,65,940,13,55,1010,12.3,65,820,12.6,55,1390,12.6,65,1400,11.9,75,1120,12,65,1300,11.7,45,850,11.9,65,880,11.6,55,920,11.7,55,2200,11.3,55,1390,11.1,55,1850,10.3,55,1950,10.5,65,1930,10,65,1350,10.6,65,1060,10.7,65,980,10.2,75,1140,10.5,75,1240,10.2,75,1250,9.8,75,580,10,65,640,9.9,65,780,10,75,780,9.6,65,2230,9.4,55,1780,9.6,55,1880,9.8,55,1060,9.5,55,1300,9.3,45,1360,9.3,45,2370,9.1,45,2240,8.5,45,2030,8.2,45,2500,8.3,45,2450,7.8,55,2390,7.6,65,2340,7.7,55,1500,8.9,55,1580,8.7,55,1700,9,55,1750,8.6,65,1840,8.7,55,850,9,55,940,9.2,55,1100,9.1,55,700,9,65,600,8.4,65,620,8.3,55,760,8.7,55,870,8.6,65,1050,8.6,55,1200,8.8,55,1380,8.5,65,1960,8.5,55,2080,8.4,55,2210,8.1,65,2760,7.7,55,2880,7.4,55,3190,7.8,55,3220,6.9,55,3260,6.4,65,3500,8.2,55,2600,6.5,75,2620,6.3,75,2800,6.1,75,2520,6.2,65,2540,5.3,65,2400,6,65,2300,5.7,65,2220,6.5,75,2090,6.5,65,2020,6.9,55,1920,7,65,1800,7.3,65,1700,7.4,75,1540,7.8,65,1450,7.8,55,1350,7.9,65,1260,7.9,55,1160,8,55,950,8,55,800,8,65,680,7.5,65,620,7.1,55,480,7,55,350,6.9,55,1000,7,55,1120,7.3,55,1240,7.1,65,1370,7,55,1500,6.9,65,1640,6.8,65,1780,6.7,65,1900,6.3,55,1990,6.1,75,2130,6.1,75,2220,5.6,65,1400,6.4,65,1250,6.5,65,1090,6.5,55,940,6.4,55,780,6.5,65,640,6.2,65,510,6.4,65,420,6.4,65,300,6.3,55,140,6.3,55,50,6,55,110,5.4,65,200,6,55,400,5.8,55,540,5.7,55,680,5.7,55,840,5.9,55,960,5.7,65,1140,5.9,65,1300,5.8,55,1470,5.8,65,1630,5.8,55,1800,5.5,65,1960,5.4,65,2110,5.2,65,1640,5,65,1500,5.2,55,1340,5.3,55,1200,5.4,65,1030,5.3,45,880,5.2,55,740,5.1,65,590,5,55,460,5,55,350,5.2,65,250,5.1,65,100,4.6,45,170,4.8,65,230,4.4,65,360,4.3,55,480,4.1,65,620,4,65,740,4.2,55,900,4.6,45,1000,4.5,55,1220,4.3,55,1380,4.4,65,1500,4.5,55,1700,4.5,55,1840,4.3,55,2100,4.7,65,1700,3.9,65,1450,3.7,55,1180,3.7,55,1050,3.8,65,810,3.7,55,680,3.8,65,410,3.6,55,350,3.7,55,300,3.9,65,520,3.4,65,150,3,55,690,3,65,860,3,55,1180,3.5,65,1540,3.5,55,1260,2.7,55,1150,2.4,55,840,1.6,55,1100,1.6,55,1210,2.1,55,900,9.6,65,1000,8.9,75,1140,8.6,55,1300,8.4,65,1460,8.2,65,880,7.5,55,1060,7.9,65,1200,7.6,65,1440,7.3,55,1560,7.2,75,750,6.8,55,880,6.9,65,1180,6.8,45,1300,6.5,55,1680,6.2,75,1500,6.2,65,1060,6.1,55,860,6.2,65,1220,5,65,1400,5,55,1600,6.3,65,1750,6.1,65];

var p14 = [330,27.4,65,85,27,75,260,26.2,65,225,25.9,65,420,25.9,65,60,25.8,95,110,25.2,85,85,25.2,65,25,25,75,370,25.4,75,310,25,95,1000,23.5,75,620,23.5,75,430,24.2,65,60,24.2,95,10,23.5,95,80,23.3,95,300,23,95,400,23,95,30,22.8,95,160,22.3,45,120,22.2,55,550,22.8,95,50,22,95,100,22,85,200,21.6,95,380,21.7,95,320,21.6,95,350,22,95,230,21.1,95,120,21,65,50,21.6,75,690,21.5,95,985,21.4,85,10,21.3,75,60,20.5,95,150,20.5,55,100,20.6,75,30,20.7,85,920,20.3,85,280,20,75,200,20.1,75,100,19.9,85,35,19.8,85,555,19.4,85,130,19.3,75,60,19.3,65,200,19.2,65,380,18.3,65,570,18.5,65,1000,18.2,65,50,18.5,55,130,18.4,75,35,17.9,45,100,17.7,75,20,17.1,55,190,17.2,75,60,16.6,75,130,16.3,75,200,16.5,85,310,16.3,75,325,16.3,75,30,16,55,110,15.9,85,220,15.6,85,390,15.2,85,35,15.2,45,150,15.4,65,230,14.9,85,180,14.6,75,30,14.5,55,100,14.5,65,70,14.2,75,170,14,65,30,13.7,55,100,13.5,65,40,13,55,150,12.8,85,30,12.1,55,110,12.3,75,90,11.2,85,320,11,75,40,11,55,85,10.6,85,30,10,55,190,9.7,75,130,9.4,85,60,9.6,65,30,9,65,120,8.9,85,0,8.5,75,110,8.3,75,20,8,55,80,7.6,75,55,7.3,85,40,6.8,55,85,6.5,85,10,6.3,75,140,6.2,75,105,5.6,65,180,5.3,75,40,5.5,75,5,5,85,20,4.7,75,110,4.5,85,70,4.4,85,160,4.5,75,40,4,85,10,3.6,75,80,3.2,75,20,3,75,160,2.1,75,40,1.6,75,10,1.3,75,25,.6,75,55,.4,75,10,.4,65];

var p15 = [1020,27.4,65,220,26.3,65,0,26,75,5,25.6,55,65,25,75,550,25.3,55,650,25.4,65,340,24.8,65,760,24.8,55,840,24.6,55,870,24.3,75,925,24.2,75,690,24.1,65,1310,24.1,65,0,24,55,425,23.8,65,480,23.9,75,530,23.8,65,200,23.5,65,1030,23.1,75,1170,22.9,75,440,23.2,65,490,22.9,65,2,22.5,55,340,22.8,75,195,22.4,65,155,22,65,330,22,75,260,22,75,420,21.9,75,660,21.8,75,5,21.5,35,120,21.5,65,320,21.2,75,440,21.5,75,630,21.2,55,930,21.5,75,970,21.3,75,990,21.1,75,880,20.9,55,940,20.7,65,400,21.1,75,510,20.9,65,530,20.5,75,1390,20.5,75,5,20.4,35,100,20.1,95,130,19.7,95,240,19.7,65,360,19.5,85,530,20,85,730,20,75,720,19.3,75,1240,19.2,85,1060,19,55,1390,18.5,55,1610,18.9,75,5,19,35,80,19.3,75,330,18.5,75,430,19,55,480,18.8,75,620,18.4,85,810,18,75,890,18,65,1000,18.2,65,1040,17.8,75,1240,18.1,85,1710,17.7,75,1090,17.6,85,1190,17.5,65,1990,17.8,85,1930,17.5,85,2,18,35,100,18.2,75,200,18.2,75,300,18,65,420,17.9,85,500,18,75,690,17.8,85,720,17.2,75,900,17.1,65,850,17.4,75,1430,17.2,35,5,17,35,130,17,55,240,17,85,350,16.9,85,400,16.5,75,550,16.7,65,620,16.7,55,1040,16.3,75,1170,16.4,75,1270,16.4,65,1940,16.2,75,2060,16.2,75,5,16,35,110,16.3,55,290,16.4,65,350,16.3,75,520,16.2,55,720,16.2,65,880,16,75,1130,16,65,1360,15.6,65,1470,15.8,75,1560,16,85,1650,15.9,55,2360,16,65,5,15.3,35,200,15.5,65,400,15.2,65,470,15.1,55,640,15,55,800,15.3,65,960,15.3,55,1060,15.3,65,1260,15.6,65,1350,14.7,65,1480,15,55,1720,15.1,65,2100,15,65,50,15,35,130,14.6,45,340,14.6,75,560,14.9,65,720,14.6,65,960,14.5,55,1150,14.6,65,1290,14.4,65,1520,14.7,55,1590,14.6,55,2200,14.4,65,5,14,35,190,14,35,270,13.8,55,420,13.9,75,510,14,75,620,13.7,75,840,14,55,1060,13.9,55,1250,13.5,45,1510,13.8,65,5,13.3,35,100,13.5,55,200,13.5,75,330,13.4,75,420,13.1,75,550,13.2,75,650,13.1,65,840,13.2,65,910,13.3,55,1490,13.4,65,1680,13.3,55,1800,13.3,65,150,12.5,75,280,12.3,75,370,12.4,55,500,12.4,75,660,12.5,65,840,12.8,65,1000,12.7,65,1250,12.7,65,1630,12.7,55,5,12,35,130,11.8,65,330,11.8,75,400,11.9,55,450,11.9,55,600,12,75,690,11.8,65,1040,12,55,1070,11.5,55,40,11.1,65,180,11.3,75,280,11.3,75,480,11.4,55,1250,11.7,55,1390,10.9,65,840,11,65,860,10.7,45,960,10.8,65,100,10.5,65,145,10.2,75,500,10.5,85,580,10,65,1100,10.2,55,1450,10.1,55,730,10,55,280,9.8,75,430,10,55,470,9.5,55,360,9.7,55,5,9.8,55,70,9.7,65,200,9.3,75,350,9.2,55,410,9,55,520,9.3,65,730,9.5,55,930,9.6,45,140,8.7,75,370,8.5,55,5,8.4,55,30,7.7,75,100,8.2,55,460,8,45,360,7.9,55,1000,8.2,55,650,7.7,55,1070,7.6,45,1070,7,45,1020,6.8,45,730,6.8,55];

var pointLists = [p01,p02,p03,p04,p05,p06,p07,p08,p09,p10,p11,p12,p13,p14,p15];

/* elrendezes a 7070x3196-os kep pixeleiben */
var S = 4096 / 7070;
var panelX = [27,1441,2873,4308,5743, 20,1443,2873,4319,5746, 12,1443,2875,4323,5746];
var panelY = [27,15,21,19,17, 1111,1117,1114,1116,1132, 2205,2210,2226,2233,2233];
var ovalX = [947,2257,3649,5252,6607, 811,2296,3698,5206,6654, 762,2280,3683,5196,6633];
var ovalY = [124,108,158,105,115, 1174,1174,1197,1171,1158, 2254,2296,2315,2301,2276];
var ovalRx = [297,297,473,452,398, 432,358,507,372,361, 381,435,406,401,372];
var ovalRy = [139,116,117,108,116, 107,147,139,177,115, 152,132,130,181,104];
var lineY = [62,78,127,75,55, 1144,1144,1134,1046,1096, 2161,2266,2254,2208,2246];
var linkX = [860,2247,3620,5238,6625, 799,2285,3705,5214,6666, 759,2274,3680,5207,6639];
var linkY = [299,278,303,265,275, 1326,1374,1387,1394,1320, 2454,2483,2490,2530,2423];

var FONT = '"Open Sans",sans-serif';
var INK = '#43577a';
var grids = [], xAxes = [], yAxes = [], series = [], maps = [], gfx = [];

function txt(x, y, text, font, fill, z, align, sx, sy) {
    gfx.push({type:'text', x:x*S, y:y*S, scaleX:sx||1, scaleY:sy||1, z:z, silent:true,
        style:{text:text, font:font, fill:fill, align:align||'left', verticalAlign:'middle'}});
}
function plain(v) { return String(v); }

pointLists.forEach(function(list, i) {
    var L = panelX[i], T = panelY[i];
    var data = [];
    for (var k = 0; k < list.length; k += 3) data.push([list[k], list[k+1], list[k+2]]);

    grids.push({left:(L+109)*S, top:(T+135)*S, width:953*S, height:724*S, backgroundColor:'#e5ecf6', show:true, borderWidth:0});
    xAxes.push({gridIndex:i, type:'value', min:xTicks[0], max:xTicks[1], interval:xTicks[2],
        name:'CAPE', nameLocation:'middle', nameGap:22, nameTextStyle:{color:INK, fontFamily:FONT, fontSize:12},
        axisLine:{show:false}, axisTick:{show:false}, splitLine:{lineStyle:{color:'#ffffff', width:1.3}},
        axisLabel:{color:INK, fontFamily:FONT, fontSize:10.5, margin:4, formatter:plain, showMinLabel:true, showMaxLabel:true}});
    yAxes.push({gridIndex:i, type:'value', min:yTicks[0], max:yTicks[1], interval:yTicks[2],
        name:'SHEAR 500hPa-1000hPa', nameLocation:'middle', nameGap:27, nameTextStyle:{color:INK, fontFamily:FONT, fontSize:10.5},
        axisLine:{show:false}, axisTick:{show:false}, splitLine:{lineStyle:{color:'#ffffff', width:1.3}},
        axisLabel:{color:INK, fontFamily:FONT, fontSize:10.5, margin:2, formatter:plain, showMinLabel:true, showMaxLabel:true}});
    series.push({type:'scatter', xAxisIndex:i, yAxisIndex:i, data:data, symbol:'circle', symbolSize:14.5, clip:true, silent:true,
        itemStyle:{borderColor:'#4a4a4a', borderWidth:1, opacity:1}});
    maps.push({type:'piecewise', seriesIndex:i, dimension:2, orient:'vertical', left:(L+1095)*S, top:(T+178)*S,
        itemWidth:40*S, itemHeight:66.9*S, itemGap:0, itemSymbol:'rect', padding:0, showLabel:false, selectedMode:false, hoverLink:false, z:3,
        pieces:rhColors.map(function(c, n) { return {min:n*10, max:n*10+10, color:c}; })});

    // keret
    gfx.push({type:'rect', z:1, silent:true, shape:{x:L*S, y:T*S, width:1290*S, height:968*S}, style:{fill:null, stroke:'#2f528f', lineWidth:1.6}});
    // cim, szinskala feliratai
    txt(L+109, T+61, 'CAPE-SHEAR Scatterplot', '15.5px '+FONT, INK, 4, 'left', .86);
    txt(L+109, T+90, 'ECMWF Reanalysis '+runs[i], '15.5px '+FONT, INK, 4, 'left', .86);
    txt(L+1095, T+159, 'meanRH(850-500hPa)', '12px '+FONT, INK, 4, 'left', .85);
    rhLabels.forEach(function(v) { txt(L+1138, T+847-v*6.69, String(v), '11.5px '+FONT, INK, 4, 'left', .88); });
    // ovalis
    gfx.push({type:'ellipse', z:10, silent:true, shape:{cx:ovalX[i]*S, cy:ovalY[i]*S, rx:ovalRx[i]*S, ry:ovalRy[i]*S},
        style:{fill:'rgba(112,146,207,0.6)', stroke:'#2f528f', lineWidth:1.8}});
    events[i].forEach(function(line, n) {
        txt(ovalX[i], lineY[i]+n*64, line, 'bold 30px Lato,sans-serif', '#000000', 11, 'center', .94, 1.06);
    });
    // link
    txt(linkX[i], linkY[i], 'katt a linkre!', '27px Lato,sans-serif', '#0563c1', 12, 'center', .98, 1.12);
    gfx.push({type:'line', z:12, silent:true, shape:{x1:(linkX[i]-121)*S, y1:(linkY[i]+23)*S, x2:(linkX[i]+121)*S, y2:(linkY[i]+23)*S},
        style:{stroke:'#0563c1', lineWidth:1.8}});
});

/* vizjel betuk: betu, kozeppont, forgatas fokban */
var marks = [
 ['T',6263,2798,90],['O',6263,2442,90],['R',6263,2035,90],['N',6263,1658,90],['Á',6200,1250,90],['D',6263,850,90],['Ó',6200,444,90],
 ['Á',4790,2753,90],['R',4850,2077,90],['V',4850,1435,90],['Í',4790,876,90],['Z',4850,350,90],
 ['H',330,2140,33],['E',620,1960,33],['V',870,1790,33],['E',1120,1640,33],['S',1350,1470,33],['Z',1807,1160,33],['I',2041,1000,33],['V',2275,845,33],['A',2509,690,33],['T',2730,600,33],['A',2990,440,33],['R',3211,230,33],
 ['S',643,2932,33],['Z',900,2763,33],['É',1130,2560,33],['L',1414,2425,33],['J',1928,2087,33],['É',2150,1890,33],['G',2442,1749,33],['E',2699,1580,33],['S',2956,1411,33],['Ő',3170,1190,33]
];
marks.forEach(function(m) {
    gfx.push({type:'text', x:m[1]*S, y:m[2]*S, rotation:m[3]*Math.PI/180, z:20, silent:true,
        style:{text:m[0], font:'bold 327px "Open Sans",sans-serif', fill:'rgba(230,230,230,0.6)', stroke:'rgba(185,210,238,0.8)', lineWidth:1.5, lineJoin:'round',
            align:'center', verticalAlign:'middle', shadowBlur:10, shadowColor:'rgba(0,0,0,0.12)', shadowOffsetX:4, shadowOffsetY:4}});
});

var chart = echarts.init(document.getElementById('main'), null, {renderer:'canvas'});
chart.setOption({
    animation:false,
    grid:grids, xAxis:xAxes, yAxis:yAxes, series:series, visualMap:maps,
    graphic:{elements:gfx}
});
</script>
</body>
</html>
